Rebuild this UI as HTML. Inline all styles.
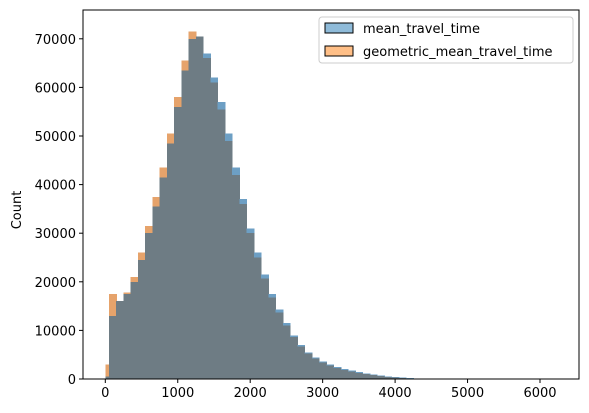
<!DOCTYPE html>
<html><head><meta charset="utf-8"><style>
html,body{margin:0;padding:0;background:#fff}
svg{display:block;font-family:"DejaVu Sans","Liberation Sans",sans-serif}
</style></head><body>
<svg id="chart" width="589" height="413" viewBox="0 0 589 413">
<g id="bars" shape-rendering="crispEdges"></g>
<g id="axes"></g>
<text x="0" y="0" transform="translate(21,210) rotate(-90)" text-anchor="middle" font-size="13" fill="#000">Count</text>
<g>
<rect x="319" y="17" width="254" height="46" rx="3" fill="#fff" fill-opacity="0.8" stroke="#ccc"/>
<rect x="325" y="23" width="28" height="10" fill="#8fbbd9" stroke="#000"/>
<text x="363" y="33" font-size="13">mean_travel_time</text>
<rect x="325" y="46" width="28" height="10" fill="#ffbf87" stroke="#000"/>
<text x="363" y="56" font-size="13">geometric_mean_travel_time</text>
</g>
</svg>
<script>
const binCenters=[0,100,200,300,400,500,600,700,800,900,1000,1100,1200,1300,1400,1500,1600,1700,1800,1900,2000,2100,2200,2300,2400,2500,2600,2700,2800,2900,3000,3100,3200,3300,3400,3500,3600,3700,3800,3900,4000,4100,4200,4300,4400];
const meanCounts=[500,13000,16000,17500,20000,24500,30000,35500,41500,48500,56000,63500,70000,70500,67000,62000,57000,50500,43500,37000,31000,26000,21500,17500,14300,11500,9000,7000,5500,4400,3600,3000,2500,2100,1700,1400,1100,900,700,500,400,300,200,100,50];
const geoCounts=[3000,17500,16000,17800,21000,26000,31500,37500,43500,50500,58000,65500,71500,70500,66000,61000,55500,49000,42000,36000,30000,25000,20700,16800,13700,11000,8600,6700,5250,4200,3400,2800,2300,1900,1550,1250,1000,800,600,450,350,250,150,80,30];
const xTicks=[0,1000,2000,3000,4000,5000,6000];
const yTicks=[0,10000,20000,30000,40000,50000,60000,70000];
const binWidth=100;
const NS="http://www.w3.org/2000/svg";
const X0=105.3, XS=0.07245, Y0=379, YS=48.6/10000;
const L=83,R=579,T=10,B=379;
function xs(v){return X0+v*XS;}
function ys(v){return Y0-v*YS;}
function mk(tag,attrs,parent){const e=document.createElementNS(NS,tag);for(const k in attrs)e.setAttribute(k,attrs[k]);parent.appendChild(e);return e;}
const bars=document.getElementById('bars');
binCenters.forEach((c,i)=>{
  const x1=Math.max(xs(c-binWidth/2),xs(0)),x2=xs(c+binWidth/2),m=meanCounts[i],g=geoCounts[i];
  const lo=Math.min(m,g),hi=Math.max(m,g);
  if(hi>lo){
    const r=mk('rect',{x:x1,y:ys(hi),width:x2-x1+0.6,height:ys(lo)-ys(hi),fill:g>m?'#e6a36b':'#6d9fc4'},bars);
    
    
  }
  const r2=mk('rect',{x:x1,y:ys(lo),width:x2-x1+0.6,height:Y0-ys(lo),fill:'#6e7c84'},bars);
  
  
});
const ax=document.getElementById('axes');
mk('rect',{x:L,y:T,width:R-L,height:B-T,fill:'none',stroke:'#000','stroke-width':1},ax);
xTicks.forEach(v=>{
  const x=xs(v);
  mk('line',{x1:x,x2:x,y1:B,y2:B+4,stroke:'#000'},ax);
  const t=mk('text',{x:x,y:B+18,'text-anchor':'middle','font-size':13},ax);
  t.textContent=v;
  
  
});
yTicks.forEach(v=>{
  const y=ys(v);
  mk('line',{x1:L-4,x2:L,y1:y,y2:y,stroke:'#000'},ax);
  const t=mk('text',{x:L-7,y:y+5,'text-anchor':'end','font-size':13},ax);
  t.textContent=v;
  
  
});
</script>
</body></html>
